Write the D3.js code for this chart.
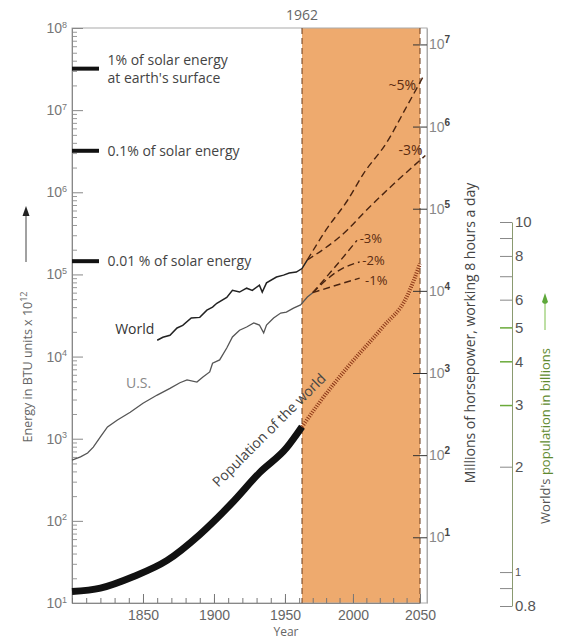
<!DOCTYPE html>
<html>
<head>
<meta charset="utf-8">
<script src="https://cdn.jsdelivr.net/npm/d3@7"></script>
<style>
body { margin: 0; background: #fff; }
svg { display: block; font-family: "Open Sans", "DejaVu Sans", sans-serif; }
</style>
</head>
<body>
<script>
// ---------- data ----------
var usYears  = [1800, 1806, 1811, 1815, 1820, 1825, 1832, 1841, 1850, 1860, 1869, 1876, 1881, 1888, 1892, 1897, 1899, 1904, 1909, 1913, 1918, 1923, 1928, 1932, 1935, 1937, 1942, 1947, 1951, 1956, 1961, 1966, 1970];
var usEnergy = [550, 600, 670, 790, 1050, 1390, 1690, 2100, 2700, 3400, 4100, 4800, 5200, 4900, 5600, 6500, 8300, 9100, 12700, 17300, 20900, 22900, 25700, 24200, 19400, 24200, 29500, 33900, 34700, 38900, 42500, 53000, 60000];

var worldYears  = [1860, 1864, 1869, 1874, 1878, 1884, 1890, 1895, 1899, 1902, 1909, 1913, 1918, 1923, 1927, 1932, 1934, 1937, 1944, 1949, 1953, 1958, 1962, 1966];
var worldEnergy = [15800, 17200, 18200, 22300, 24000, 29500, 30000, 36700, 40000, 44500, 52500, 64000, 61000, 68000, 64000, 74000, 61000, 79000, 93000, 98000, 104000, 107000, 118000, 150000];

var popYears    = [1800, 1820, 1843, 1867, 1890, 1913, 1932, 1951, 1962];
var popBillions = [0.88, 0.90, 0.97, 1.08, 1.28, 1.58, 1.92, 2.26, 2.6];
var popProjYears    = [1962, 1975, 1996, 2022, 2040, 2050];
var popProjBillions = [2.6, 3.05, 3.85, 5.0, 6.1, 7.6];

var projNames  = ["~5%", "-3%", "-3%", "-2%", "-1%"];
var projYears  = [[1966, 1980, 1996, 2008, 2025, 2040, 2052],
                  [1966, 1996, 2008, 2028, 2054],
                  [1970, 1986, 2003],
                  [1970, 1990, 2005],
                  [1970, 1990, 2005]];
var projEnergy = [[1.5e5, 3.5e5, 8.0e5, 1.7e6, 4.0e6, 1.1e7, 2.5e7],
                  [1.5e5, 3.5e5, 5.6e5, 1.16e6, 2.8e6],
                  [6.0e4, 1.2e5, 2.6e5],
                  [6.0e4, 1.13e5, 1.42e5],
                  [6.0e4, 7.6e4, 9.0e4]];
var projLabelYear   = [2047, 2052, 2005, 2007, 2009];
var projLabelEnergy = [1.76e7, 2.85e6, 2.4e5, 1.3e5, 7.4e4];

var solarText   = [["1% of solar energy", "at earth's surface"], ["0.1% of solar energy"], ["0.01 % of solar energy"]];
var solarEnergy = [3.2e7, 3.2e6, 1.45e5];

var energyTicks = [1e1, 1e2, 1e3, 1e4, 1e5, 1e6, 1e7, 1e8];
var hpTicks     = [1e1, 1e2, 1e3, 1e4, 1e5, 1e6, 1e7];
var popTicks    = [0.8, 1, 2, 3, 4, 5, 6, 8, 10];
var popMinor    = [0.9, 7, 9];
var popGreen    = [3, 4, 5];
var yearTicks   = [1850, 1900, 1950, 2000, 2050];
var forecastStart = 1962, forecastEnd = 2050;

// ---------- setup ----------
var W = 561, H = 642;
var svg = d3.select(document.body).append('svg').attr('width', W).attr('height', H);

var x  = d3.scaleLinear().domain([1800, forecastStart, forecastEnd]).range([72, 302, 420]);
var yE = d3.scaleLog().domain([10, 1e8]).range([603, 28]);
var yH = d3.scaleLog().domain([Math.pow(10, 0.2), Math.pow(10, 7.2)]).range([603, 28]);
var yP = d3.scaleLog().domain([0.8, 10]).range([606, 222]);
var frameRight = 427;

function zip(a, b){ return a.map(function(v, i){ return [v, b[i]]; }); }
function supLabels(sel, size){
    sel.each(function(d){
        var t = d3.select(this);
        t.text(null);
        t.append('tspan').text('10');
        t.append('tspan').attr('dy', '-0.6em').style('font-size', size).text(Math.round(Math.log10(d)));
    });
}

// forecast shading
svg.append('rect')
    .attr('x', x(forecastStart)).attr('y', yE(1e8))
    .attr('width', x(forecastEnd) - x(forecastStart)).attr('height', yE(10) - yE(1e8))
    .attr('fill', '#eeaa6e');

// frame
svg.append('rect')
    .attr('x', x(1800)).attr('y', yE(1e8))
    .attr('width', frameRight - x(1800)).attr('height', yE(10) - yE(1e8))
    .attr('fill', 'none').attr('stroke', '#aaa').attr('stroke-width', 1);

// dashed year lines
[forecastStart, forecastEnd].forEach(function(yr){
    svg.append('line')
        .attr('x1', x(yr)).attr('x2', x(yr)).attr('y1', yE(1e8)).attr('y2', yE(10))
        .attr('stroke', '#6b3a1a').attr('stroke-width', 1).attr('stroke-dasharray', '6,4');
});
svg.append('text').attr('x', x(forecastStart)).attr('y', 20)
    .attr('text-anchor', 'middle').attr('font-size', 14).attr('fill', '#666').text(forecastStart);

// ---------- axes ----------
var minorE = [];
energyTicks.slice(0, -1).forEach(function(d){ [2, 3, 4, 5, 6, 7, 8, 9].forEach(function(m){ minorE.push(d * m); }); });
svg.append('g').attr('transform', 'translate(' + x(1800) + ',0)')
    .call(d3.axisLeft(yE).tickValues(minorE).tickSizeInner(-5).tickSizeOuter(0).tickFormat(''))
    .call(function(g){ g.select('.domain').remove(); g.selectAll('line').attr('stroke', '#999'); });
var gE = svg.append('g').attr('transform', 'translate(' + x(1800) + ',0)')
    .call(d3.axisLeft(yE).tickValues(energyTicks).tickSizeInner(-11).tickSizeOuter(0).tickPadding(5));
gE.select('.domain').attr('stroke', '#888');
gE.selectAll('line').attr('stroke', '#888');
gE.selectAll('text').attr('font-size', 14).attr('fill', '#777').call(supLabels, '9px');

var gx = svg.append('g').attr('transform', 'translate(0,' + yE(10) + ')');
gx.call(d3.axisBottom(x).tickValues(d3.range(1800, 2051, 10)).tickSizeInner(-5).tickSizeOuter(0).tickFormat(''))
    .call(function(g){ g.select('.domain').attr('stroke', '#888'); g.selectAll('line').attr('stroke', '#777'); });
var gx2 = svg.append('g').attr('transform', 'translate(0,' + yE(10) + ')')
    .call(d3.axisBottom(x).tickValues(yearTicks).tickSizeInner(-9).tickSizeOuter(0).tickPadding(7).tickFormat(d3.format('d')));
gx2.select('.domain').remove();
gx2.selectAll('line').attr('stroke', '#777');
gx2.selectAll('text').attr('font-size', 14).attr('fill', '#666');
svg.append('text').attr('x', x(1962) - 16).attr('y', 636).attr('text-anchor', 'middle')
    .attr('font-size', 12).attr('fill', '#666').text('Year');

var gH = svg.append('g').attr('transform', 'translate(' + frameRight + ',0)')
    .call(d3.axisRight(yH).tickValues(hpTicks).tickSizeInner(-14).tickSizeOuter(0).tickPadding(2));
gH.select('.domain').attr('stroke', '#aaa');
gH.selectAll('line').attr('stroke', '#333');
gH.selectAll('text').attr('font-size', 14).attr('fill', '#888').call(supLabels, '10px');
gH.selectAll('text tspan:last-child').attr('fill', '#444').attr('font-weight', 'bold');

var gP = svg.append('g').attr('transform', 'translate(512,0)');
gP.call(d3.axisRight(yP).tickValues(popMinor).tickSizeInner(-12).tickSizeOuter(0).tickFormat(''))
    .call(function(g){ g.select('.domain').remove(); g.selectAll('line').attr('stroke', '#888'); });
var gP2 = svg.append('g').attr('transform', 'translate(512,0)')
    .call(d3.axisRight(yP).tickValues(popTicks).tickSizeInner(-12).tickSizeOuter(0).tickPadding(3).tickFormat(d3.format('')));
gP2.select('.domain').attr('stroke', '#8a9a70');
gP2.selectAll('.tick line').attr('stroke', function(d){ return popGreen.indexOf(d) >= 0 ? '#6aaa3a' : '#888'; })
    .attr('stroke-width', function(d){ return popGreen.indexOf(d) >= 0 ? 1.5 : 1; });
gP2.selectAll('text').attr('font-size', function(d){ return d === 1 ? 11 : 15; }).attr('fill', '#555');

// ---------- solar reference bars ----------
solarEnergy.forEach(function(v, i){
    svg.append('line').attr('x1', x(1800)).attr('x2', x(1819)).attr('y1', yE(v)).attr('y2', yE(v))
        .attr('stroke', '#111').attr('stroke-width', 4);
    var t = svg.append('text').attr('x', x(1825)).attr('y', yE(v) - (solarText[i].length - 1) * 9 + 5)
        .attr('font-size', 14).attr('fill', '#444');
    solarText[i].forEach(function(s, j){
        t.append('tspan').attr('x', x(1825)).attr('dy', j ? 18 : 0).text(s);
    });
});

// ---------- lines ----------
var lineE = d3.line().x(function(d){ return x(d[0]); }).y(function(d){ return yE(d[1]); });
var lineP = d3.line().x(function(d){ return x(d[0]); }).y(function(d){ return yP(d[1]); }).curve(d3.curveMonotoneX);

svg.append('path').datum(zip(usYears, usEnergy)).attr('d', lineE)
    .attr('fill', 'none').attr('stroke', '#555').attr('stroke-width', 1.3);
svg.append('path').datum(zip(worldYears, worldEnergy)).attr('d', lineE)
    .attr('fill', 'none').attr('stroke', '#222').attr('stroke-width', 1.5);

var lineProj = d3.line().x(function(d){ return x(d[0]); }).y(function(d){ return yE(d[1]); }).curve(d3.curveMonotoneX);
projNames.forEach(function(name, i){
    svg.append('path').datum(zip(projYears[i], projEnergy[i])).attr('d', lineProj)
        .attr('fill', 'none').attr('stroke', '#4a2410').attr('stroke-width', 1.4).attr('stroke-dasharray', '7,4');
    svg.append('text').attr('x', x(projLabelYear[i])).attr('y', yE(projLabelEnergy[i]))
        .attr('text-anchor', i < 2 ? 'end' : 'start')
        .attr('font-size', i < 2 ? 14 : 13).attr('fill', '#5a2a10').text(name);
});

svg.append('path').datum(zip(popYears, popBillions)).attr('d', lineP)
    .attr('fill', 'none').attr('stroke', '#111').attr('stroke-width', 7);
svg.append('path').datum(zip(popProjYears, popProjBillions)).attr('d', lineP)
    .attr('fill', 'none').attr('stroke', '#8b3516').attr('stroke-width', 4).attr('stroke-dasharray', '1,1.5');

// ---------- labels ----------
svg.append('text').attr('x', x(1858)).attr('y', yE(1.9e4)).attr('text-anchor', 'end')
    .attr('font-size', 14).attr('fill', '#333').text('World');
svg.append('text').attr('x', x(1838)).attr('y', yE(4140))
    .attr('font-size', 14).attr('fill', '#888').text('U.S.');
svg.append('text')
    .attr('transform', 'translate(' + x(1903) + ',' + yP(1.74) + ') rotate(-45)')
    .attr('font-size', 14).attr('fill', '#444').text('Population of the world');

// left title
var lt = svg.append('text').attr('transform', 'translate(32,367) rotate(-90)')
    .attr('text-anchor', 'middle').attr('font-size', 12.5).attr('fill', '#666');
lt.append('tspan').text('Energy in BTU units x 10');
lt.append('tspan').attr('dy', '-0.6em').attr('font-size', 9).text('12');
svg.append('line').attr('x1', 26).attr('x2', 26).attr('y1', 262).attr('y2', 214)
    .attr('stroke', '#444').attr('stroke-width', 1);
svg.append('path').attr('d', 'M26,206 L22.5,216 L29.5,216 Z').attr('fill', '#222');

// horsepower title
svg.append('text').attr('transform', 'translate(475,333) rotate(-90)')
    .attr('text-anchor', 'middle').attr('font-size', 14).attr('fill', '#444')
    .text('Millions of horsepower, working 8 hours a day');

// population title
var pt = svg.append('text').attr('transform', 'translate(550,436) rotate(-90)')
    .attr('text-anchor', 'middle').attr('font-size', 13);
pt.append('tspan').attr('fill', '#555').text("World's ");
pt.append('tspan').attr('fill', '#5f8a30').text('population in billions');
svg.append('line').attr('x1', 545).attr('x2', 545).attr('y1', 330).attr('y2', 304)
    .attr('stroke', '#7cbf4a').attr('stroke-width', 1);
svg.append('path').attr('d', 'M545,293 L542,302 Q545,306 548,302 Z').attr('fill', '#5ea83a');
</script>
</body>
</html>
